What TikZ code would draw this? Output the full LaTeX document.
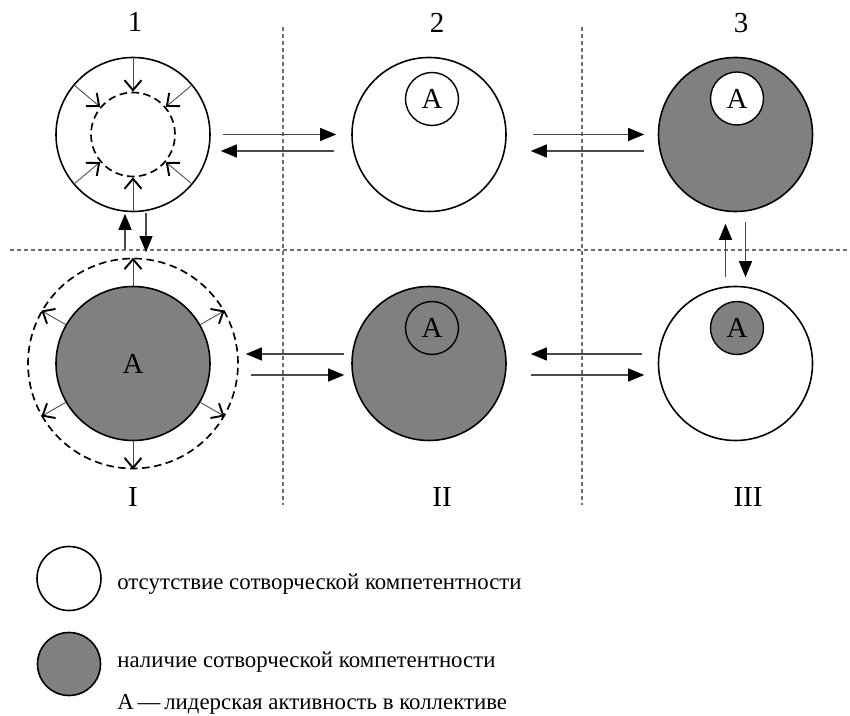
\documentclass[tikz,border=0pt]{standalone}
\usepackage{fontspec}
\setmainfont{Liberation Serif}
\usepackage{xcolor}
\usetikzlibrary{arrows.meta}

\definecolor{comp}{HTML}{808080}
\definecolor{linkgray}{HTML}{4A4A4A}
\definecolor{gridgray}{HTML}{6E6E6E}

\begin{document}
\begin{tikzpicture}[>=Triangle,
    big/.style={circle,draw,line width=0.9pt,minimum size=3.08cm,inner sep=0pt,font=\fontsize{16.5}{16}\selectfont},
    small/.style={circle,draw,line width=0.8pt,minimum size=1.06cm,inner sep=0pt,font=\fontsize{16.5}{16}\selectfont},
    bound/.style={circle,draw,line width=0.95pt,dash pattern=on 1.5mm off 0.9mm,inner sep=0pt},
    ray/.style={draw=linkgray,line width=0.5pt,-{Straight Barb[length=2mm,width=3.4mm,line width=1.1pt,color=black]}},
    link/.style={draw=linkgray,line width=0.6pt,-{Triangle[length=3.2mm,width=2.6mm,color=black]}},
    grid/.style={draw=gridgray,line width=0.6pt,dash pattern=on 0.8mm off 0.6mm},
    lbl/.style={font=\fontsize{16.5}{16}\selectfont,inner sep=0pt},
    legtext/.style={anchor=base west,font=\fontsize{13}{14}\selectfont,inner sep=0pt}]
                \useasboundingbox (0,0) rectangle (17,14.32);
                % separators
                \draw [grid](5.66,13.78)--(5.66,4.22);
                \draw [grid](11.64,13.78)--(11.64,4.22);
                \draw [grid](0.2,9.32)--(17,9.32);
                % column labels
                \node [lbl](n1) at (2.70,13.88){1};
                \node [lbl](n2) at (8.74,13.86){2};
                \node [lbl](n3) at (14.82,13.86){3};
                \node [lbl](nI) at (2.66,4.38){I};
                \node [lbl](nII) at (8.84,4.38){II};
                \node [lbl](nIII) at (14.96,4.38){III};
                % top row
                \node [big](c1) at (2.66,11.63){};
                \node [bound,minimum size=1.68cm](in1) at (2.66,11.63){};
                \foreach \a in {40,90,140,220,270,320}
                    \draw [ray](c1.\a)--(in1.\a);
                \node [big](c2) at (8.58,11.63){};
                \node [small](a2) at (8.64,12.34){А};
                \node [big,fill=comp](c3) at (14.71,11.63){};
                \node [small,fill=white](a3) at (14.74,12.35){А};
                % bottom row
                \node [bound,minimum size=4.2cm](outI) at (2.66,7.05){};
                \node [big,fill=comp](cI) at (2.66,7.05){А};
                \foreach \a in {30,90,150,210,270,330}
                    \draw [ray](cI.\a)--(outI.\a);
                \node [big,fill=comp](cII) at (8.58,7.05){};
                \node [small](aII) at (8.64,7.76){А};
                \node [big](cIII) at (14.71,7.05){};
                \node [small,fill=comp](aIII) at (14.74,7.76){А};
                % transitions
                \draw [link]([xshift=0.24cm]c1.east)--([xshift=-0.30cm]c2.west);
                \draw [link]([xshift=-0.34cm,yshift=-0.33cm]c2.west)--([xshift=0.20cm,yshift=-0.33cm]c1.east);
                \draw [link]([xshift=0.52cm]c2.east)--([xshift=-0.27cm]c3.west);
                \draw [link]([xshift=-0.27cm,yshift=-0.33cm]c3.west)--([xshift=0.48cm,yshift=-0.33cm]c2.east);
                \draw [link]([xshift=-0.14cm,yshift=0.19cm]cII.west)--([xshift=0.70cm,yshift=0.19cm]cI.east);
                \draw [link]([xshift=0.80cm,yshift=-0.23cm]cI.east)--([xshift=-0.14cm,yshift=-0.23cm]cII.west);
                \draw [link]([xshift=-0.31cm,yshift=0.19cm]cIII.west)--([xshift=0.48cm,yshift=0.19cm]cII.east);
                \draw [link]([xshift=0.48cm,yshift=-0.23cm]cII.east)--([xshift=-0.27cm,yshift=-0.23cm]cIII.west);
                \draw [link]([xshift=-0.16cm,yshift=0.17cm]outI.north)--([xshift=-0.16cm,yshift=-0.03cm]c1.south);
                \draw [link]([xshift=0.26cm,yshift=-0.01cm]c1.south)--([xshift=0.26cm,yshift=0.11cm]outI.north);
                \draw [link]([xshift=-0.20cm,yshift=0.17cm]cIII.north)--([xshift=-0.20cm,yshift=-0.23cm]c3.south);
                \draw [link]([xshift=0.20cm,yshift=-0.19cm]c3.south)--([xshift=0.20cm,yshift=0.17cm]cIII.north);
                % legend
                \node [circle,draw,line width=0.9pt,minimum size=1.28cm,inner sep=0pt](lw) at (1.38,2.75){};
                \node [circle,draw,line width=0.9pt,minimum size=1.26cm,inner sep=0pt,fill=comp](lg) at (1.38,1.04){};
                \node [legtext](t1) at (2.34,2.52){отсутствие сотворческой компетентности};
                \node [legtext](t2) at (2.34,0.96){наличие сотворческой компетентности};
                \node [legtext](t3) at (2.34,0.12){А\,—\,лидерская активность в коллективе};
            \end{tikzpicture}
\end{document}
